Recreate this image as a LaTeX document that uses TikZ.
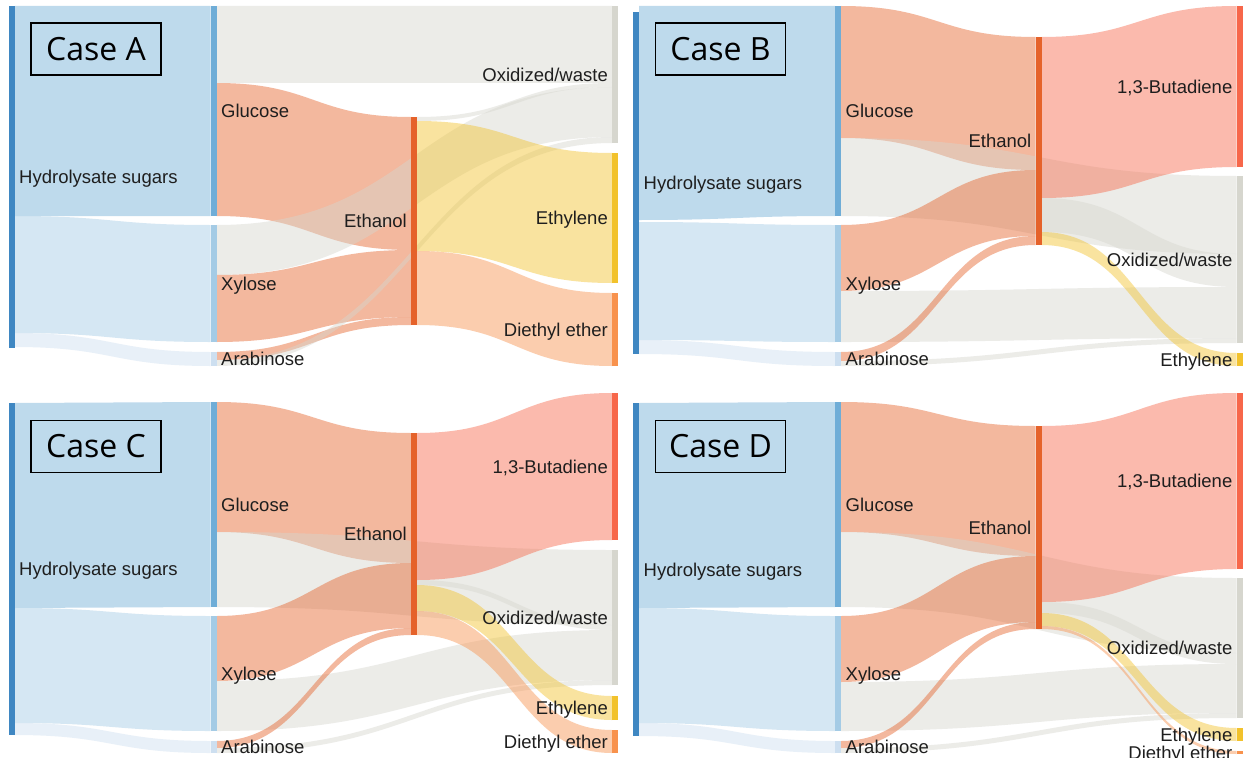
\documentclass[tikz,border=0pt]{standalone}
\usepackage{fontspec}
\setmainfont{Liberation Sans}
\newfontfamily\casefont{Open Sans}
\definecolor{hydC}{HTML}{3F87C2}
\definecolor{gluC}{HTML}{6FADD7}
\definecolor{xylC}{HTML}{A4CBE5}
\definecolor{araC}{HTML}{CDDFF0}
\definecolor{ethC}{HTML}{E5622A}
\definecolor{oxC}{HTML}{D6D6CE}
\definecolor{eyC}{HTML}{F2C22C}
\definecolor{deeC}{HTML}{F8924D}
\definecolor{butC}{HTML}{F7674A}
\definecolor{txtC}{HTML}{1E1E1E}
\tikzset{
  lbl/.style={font=\fontsize{18.5}{22}\selectfont, text=txtC, inner sep=0pt},
  casebox/.style={draw=black, line width=1.2pt, minimum width=130pt, minimum height=52pt,
    inner sep=0pt, font=\casefont\fontsize{32}{36}\selectfont}
}
% link band: x0, s0, s1, x1, t0, t1, colour
\newcommand\lnk[7]{%
  \pgfmathsetmacro\xmid{(#1+#4)/2}%
  \fill[#7,fill opacity=0.45] (#1,#2) .. controls (\xmid,#2) and (\xmid,#5) .. (#4,#5)
     -- (#4,#6) .. controls (\xmid,#6) and (\xmid,#3) .. (#1,#3) -- cycle;}
% node bar with label on the right: name, x, y0, y1, colour, text
\newcommand\snodeR[6]{%
  \pgfmathsetmacro\ylab{(#3+#4)/2+6.6}\pgfmathsetmacro\xlab{#2+10.5}%
  \fill[#5] (#2,#3) rectangle ++(6,#4-#3);
  \node[lbl, anchor=base west] (#1) at (\xlab,\ylab) {#6};}
% node bar with label on the left
\newcommand\snodeL[6]{%
  \pgfmathsetmacro\ylab{(#3+#4)/2+6.6}\pgfmathsetmacro\xlab{#2-4}%
  \fill[#5] (#2,#3) rectangle ++(6,#4-#3);
  \node[lbl, anchor=base east] (#1) at (\xlab,\ylab) {#6};}
\def\colar{14.5}
\def\colbl{210.5}
\def\colbr{216.5}
\def\colcl{411}
\def\colcr{417}
\def\coldl{612}
\begin{document}
\begin{tikzpicture}[x=1pt,y=-1pt]
\useasboundingbox[fill=white] (0,0) rectangle (1246,757);

% ================= Case A =================
\lnk{\colar}{6}{216}{\colbl}{6}{216}{gluC}
\lnk{\colar}{216}{333}{\colbl}{225}{342}{xylC}
\lnk{\colar}{333}{347}{\colbl}{352}{366}{araC}
\lnk{\colbr}{6}{83}{\coldl}{6}{83}{oxC}
\lnk{\colbr}{83}{216}{\colcl}{117}{250}{ethC}
\lnk{\colbr}{225}{275}{\coldl}{87}{137}{oxC}
\lnk{\colbr}{275}{342}{\colcl}{250}{317}{ethC}
\lnk{\colbr}{352}{360}{\colcl}{317}{325}{ethC}
\lnk{\colbr}{360}{366}{\coldl}{137}{143}{oxC}
\lnk{\colcr}{117}{121}{\coldl}{83}{87}{oxC}
\lnk{\colcr}{121}{251}{\coldl}{153}{283}{eyC}
\lnk{\colcr}{251}{325}{\coldl}{293}{366}{deeC}
\snodeR{A-hyd}{8.5}{6}{348}{hydC}{Hydrolysate sugars}
\snodeR{A-glu}{210.5}{6}{216}{gluC}{Glucose}
\snodeR{A-xyl}{210.5}{225}{342}{xylC}{Xylose}
\snodeR{A-ara}{210.5}{352}{366}{araC}{Arabinose}
\snodeL{A-eth}{411}{117}{325}{ethC}{Ethanol}
\snodeL{A-ox}{612}{6}{143}{oxC}{Oxidized/waste}
\snodeL{A-ey}{612}{153}{283}{eyC}{Ethylene}
\snodeL{A-dee}{612}{293}{366}{deeC}{Diethyl ether}
\node[casebox] (A-case) at (96,49) {Case A};

% ================= Case B =================
\begin{scope}[xshift=624.5pt]
\lnk{\colar}{6}{220}{\colbl}{6}{216}{gluC}
\lnk{\colar}{222}{340}{\colbl}{225}{342}{xylC}
\lnk{\colar}{340}{354}{\colbl}{352}{366}{araC}
\lnk{\colbr}{6}{138}{\colcl}{37}{170}{ethC}
\lnk{\colbr}{138}{216}{\coldl}{176}{254}{oxC}
\lnk{\colbr}{225}{291}{\colcl}{170}{236}{ethC}
\lnk{\colbr}{291}{342}{\coldl}{287}{338}{oxC}
\lnk{\colbr}{352}{361}{\colcl}{236}{245}{ethC}
\lnk{\colbr}{361}{366}{\coldl}{338}{343}{oxC}
\lnk{\colcr}{37}{198}{\coldl}{6}{167}{butC}
\lnk{\colcr}{198}{232}{\coldl}{254}{287}{oxC}
\lnk{\colcr}{232}{245}{\coldl}{353}{366}{eyC}
\snodeR{B-hyd}{8.5}{12}{354}{hydC}{Hydrolysate sugars}
\snodeR{B-glu}{210.5}{6}{216}{gluC}{Glucose}
\snodeR{B-xyl}{210.5}{225}{342}{xylC}{Xylose}
\snodeR{B-ara}{210.5}{352}{366}{araC}{Arabinose}
\snodeL{B-eth}{411}{37}{245}{ethC}{Ethanol}
\snodeL{B-but}{612}{6}{167}{butC}{1,3-Butadiene}
\snodeL{B-ox}{612}{176}{343}{oxC}{Oxidized/waste}
\snodeL{B-ey}{612}{353}{366}{eyC}{Ethylene}
\node[casebox] (B-case) at (96,49) {Case B};
\end{scope}

% ================= Case C =================
\lnk{\colar}{403}{608}{\colbl}{402}{607}{gluC}
\lnk{\colar}{608}{723}{\colbl}{616}{731}{xylC}
\lnk{\colar}{723}{735}{\colbl}{741}{753}{araC}
\lnk{\colbr}{402}{532}{\colcl}{433}{563}{ethC}
\lnk{\colbr}{532}{607}{\coldl}{550}{625}{oxC}
\lnk{\colbr}{616}{681}{\colcl}{563}{628}{ethC}
\lnk{\colbr}{681}{731}{\coldl}{630}{680}{oxC}
\lnk{\colbr}{741}{748}{\colcl}{628}{635}{ethC}
\lnk{\colbr}{748}{753}{\coldl}{680}{685}{oxC}
\lnk{\colcr}{433}{580}{\coldl}{393}{540}{butC}
\lnk{\colcr}{580}{585}{\coldl}{625}{630}{oxC}
\lnk{\colcr}{585}{611}{\coldl}{696}{720}{eyC}
\lnk{\colcr}{611}{635}{\coldl}{730}{753}{deeC}
\snodeR{C-hyd}{8.5}{403}{735}{hydC}{Hydrolysate sugars}
\snodeR{C-glu}{210.5}{402}{607}{gluC}{Glucose}
\snodeR{C-xyl}{210.5}{616}{731}{xylC}{Xylose}
\snodeR{C-ara}{210.5}{741}{753}{araC}{Arabinose}
\snodeL{C-eth}{411}{433}{635}{ethC}{Ethanol}
\snodeL{C-but}{612}{393}{540}{butC}{1,3-Butadiene}
\snodeL{C-ox}{612}{550}{685}{oxC}{Oxidized/waste}
\snodeL{C-ey}{612}{696}{720}{eyC}{Ethylene}
\snodeL{C-dee}{612}{730}{753}{deeC}{Diethyl ether}
\node[casebox] (C-case) at (96,446.5) {Case C};

% ================= Case D =================
\begin{scope}[xshift=624.5pt]
\lnk{\colar}{403}{608}{\colbl}{402}{607}{gluC}
\lnk{\colar}{608}{723}{\colbl}{616}{731}{xylC}
\lnk{\colar}{723}{736}{\colbl}{741}{753}{araC}
\lnk{\colbr}{402}{532}{\colcl}{426}{556}{ethC}
\lnk{\colbr}{532}{607}{\coldl}{578}{653}{oxC}
\lnk{\colbr}{616}{682}{\colcl}{556}{622}{ethC}
\lnk{\colbr}{682}{731}{\coldl}{664}{713}{oxC}
\lnk{\colbr}{741}{748}{\colcl}{622}{629}{ethC}
\lnk{\colbr}{748}{753}{\coldl}{713}{718}{oxC}
\lnk{\colcr}{426}{602}{\coldl}{393}{569}{butC}
\lnk{\colcr}{602}{613}{\coldl}{653}{664}{oxC}
\lnk{\colcr}{613}{626}{\coldl}{728}{741}{eyC}
\lnk{\colcr}{626}{629}{\coldl}{751}{754}{deeC}
\snodeR{D-hyd}{8.5}{403}{736}{hydC}{Hydrolysate sugars}
\snodeR{D-glu}{210.5}{402}{607}{gluC}{Glucose}
\snodeR{D-xyl}{210.5}{616}{731}{xylC}{Xylose}
\snodeR{D-ara}{210.5}{741}{753}{araC}{Arabinose}
\snodeL{D-eth}{411}{426}{629}{ethC}{Ethanol}
\snodeL{D-but}{612}{393}{569}{butC}{1,3-Butadiene}
\snodeL{D-ox}{612}{578}{718}{oxC}{Oxidized/waste}
\snodeL{D-ey}{612}{728}{741}{eyC}{Ethylene}
\snodeL{D-dee}{612}{751}{754}{deeC}{Diethyl ether}
\node[casebox] (D-case) at (96,446.5) {Case D};
\end{scope}
\end{tikzpicture}
\end{document}
